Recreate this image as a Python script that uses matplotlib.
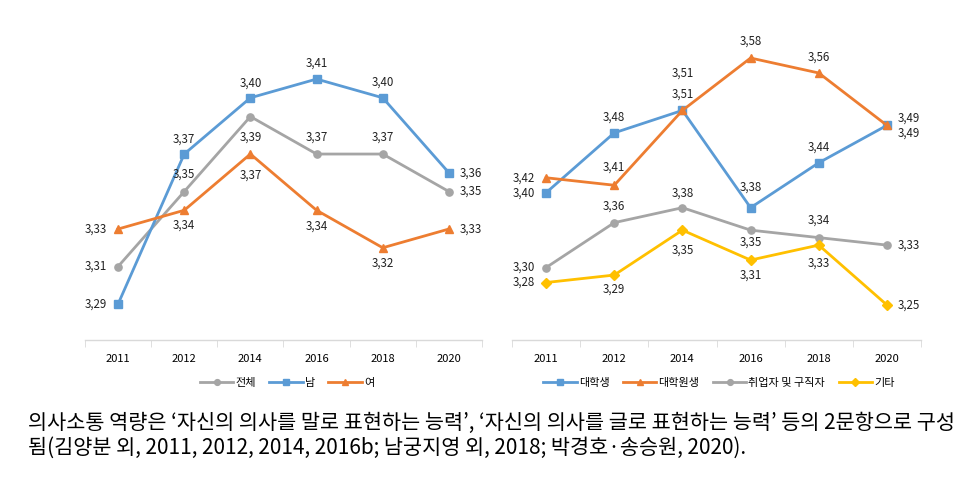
import matplotlib
matplotlib.use("Agg")
import matplotlib.pyplot as plt

plt.rcParams['font.family'] = ['Noto Sans CJK KR', 'DejaVu Sans']

years = ['2011', '2012', '2014', '2016', '2018', '2020']

# left panel: 성별
total = [3.31, 3.35, 3.39, 3.37, 3.37, 3.35]
male = [3.29, 3.37, 3.40, 3.41, 3.40, 3.36]
female = [3.33, 3.34, 3.37, 3.34, 3.32, 3.33]

# right panel: 신분
univ = [3.40, 3.48, 3.51, 3.38, 3.44, 3.49]
grad = [3.42, 3.41, 3.51, 3.58, 3.56, 3.49]
worker = [3.30, 3.36, 3.38, 3.35, 3.34, 3.33]
other = [3.28, 3.29, 3.35, 3.31, 3.33, 3.25]

caption1 = "의사소통 역량은 ‘자신의 의사를 말로 표현하는 능력’, ‘자신의 의사를 글로 표현하는 능력’ 등의 2문항으로 구성"
caption2 = "됨(김양분 외, 2011, 2012, 2014, 2016b; 남궁지영 외, 2018; 박경호·송승원, 2020)."

BLUE = '#5b9bd5'
ORANGE = '#ed7d31'
GRAY = '#a5a5a5'
YELLOW = '#ffc000'

L, R = (-11, 0), (11, 0)

# label offsets in pixels (dx, dy; dy positive = down on screen)
left_series = [
    (total, '전체', GRAY, 'o', [L, (0, -17), (0, 21), (0, -17), (0, -17), R]),
    (male, '남', BLUE, 's', [L, (0, -15), (0, -15), (0, -16), (0, -16), R]),
    (female, '여', ORANGE, '^', [L, (0, 15), (0, 21), (0, 16), (0, 15), R]),
]
right_series = [
    (univ, '대학생', BLUE, 's', [L, (0, -16), (0, -37), (0, -21), (0, -16), (11, 8)]),
    (grad, '대학원생', ORANGE, '^', [L, (0, -18), (0, -16), (0, -17), (0, -16), (11, -7)]),
    (worker, '취업자 및 구직자', GRAY, 'o', [L, (0, -17), (0, -15), (0, 12), (0, -17), R]),
    (other, '기타', YELLOW, 'D', [L, (0, 14), (0, 20), (0, 15), (0, 18), R]),
]

fig = plt.figure(figsize=(9.75, 4.78), dpi=100)
W, H = 975, 478


def make_ax(x0, x1, ylo, yhi):
    ax = fig.add_axes([x0 / W, (H - 340) / H, (x1 - x0) / W, 320 / H])
    ax.set_xlim(-0.5, 5.5)
    ax.set_ylim(ylo, yhi)
    for s in ['top', 'right', 'left']:
        ax.spines[s].set_visible(False)
    ax.spines['bottom'].set_color('#d9d9d9')
    ax.spines['bottom'].set_linewidth(1)
    ax.set_yticks([])
    ax.set_xticks(range(len(years)))
    ax.set_xticklabels(years, fontsize=8)
    ax.tick_params(axis='x', length=0, pad=10)
    ax.set_xticks([i - 0.5 for i in range(len(years) + 1)], minor=True)
    ax.tick_params(axis='x', which='minor', length=5, color='#d9d9d9')
    return ax


def draw(ax, series):
    handles = []
    for vals, name, col, mk, offs in series:
        ms = 5.2 if mk != 'D' else 5
        h, = ax.plot(range(len(vals)), vals, color=col, lw=2, marker=mk,
                     ms=ms, label=name, clip_on=False)
        handles.append(h)
        for i, v in enumerate(vals):
            dx, dy = offs[i]
            ha = 'right' if dx < 0 else ('left' if dx > 0 else 'center')
            ax.annotate(f"{v:.2f}".replace('.', ','), (i, v),
                        xytext=(dx, -dy), textcoords='offset pixels',
                        ha=ha, va='center', fontsize=8.3, color='#222222')
    return handles


axl = make_ax(85, 482, 3.2708, 3.4415)
hl = draw(axl, left_series)
axr = make_ax(512, 921, 3.2032, 3.6308)
hr = draw(axr, right_series)

leg_kw = dict(loc='center', frameon=False, fontsize=8, handlelength=3,
              columnspacing=1.2, handletextpad=0.2, markerscale=0.8)
fig.legend(handles=hl, bbox_to_anchor=(287 / W, 1 - 383 / H), ncol=3, **leg_kw)
fig.legend(handles=hr, bbox_to_anchor=(719 / W, 1 - 383 / H), ncol=4, **leg_kw)

t1 = fig.text(28 / W, 1 - 423 / H, caption1, fontsize=13, va='center', ha='left',
              fontweight='light')
t2 = fig.text(28 / W, 1 - 448 / H, caption2, fontsize=13, va='center', ha='left',
              fontweight='light')
fig.canvas.draw()
w = t1.get_window_extent().width
fs = 13 * 927 / w
t1.set_fontsize(fs)
t2.set_fontsize(fs)

fig.savefig('out.png', dpi=100)
